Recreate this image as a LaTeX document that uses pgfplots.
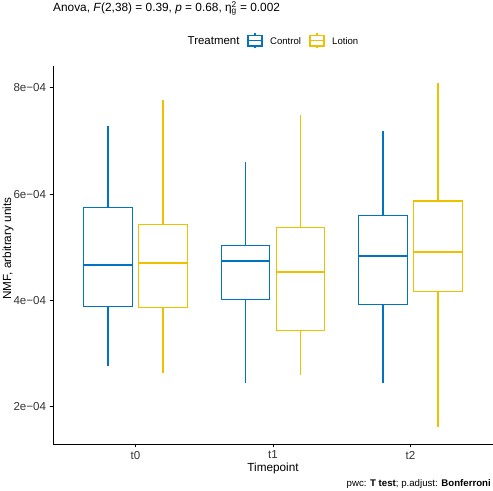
\documentclass[border=0pt]{standalone}
\usepackage{fontspec}
\setmainfont{Liberation Sans}
\usepackage{pgfplots}
\pgfplotsset{compat=1.18}
\usepgfplotslibrary{statistics}
\definecolor{ctrl}{HTML}{0073C2}
\definecolor{lot}{HTML}{EFC000}
\begin{document}
\begin{tikzpicture}[x=1bp,y=1bp]
\useasboundingbox (0,0) rectangle (493,491);
\begin{axis}[
 at={(53bp,47bp)}, anchor=south west,
 scale only axis, width=440bp, height=378bp,
 xmin=0.4, xmax=3.6, ymin=1.297, ymax=8.41,
 axis lines*=left, axis line style={black, line width=0.6pt, -},
 xtick={1,2,3}, xticklabels={t0,t1,t2},
 ytick={2,4,6,8}, yticklabels={2e−04,4e−04,6e−04,8e−04},
 tick align=outside, major tick length=3.5bp, tick style={black, line width=0.6pt},
 ticklabel style={font=\fontsize{11.6}{13}\selectfont, text=black!80},
 xlabel={Timepoint}, ylabel={NMF, arbitrary units},
 xlabel style={at={(axis description cs:0.5,-0.0635)}, anchor=center, font=\fontsize{11.8}{13}\selectfont},
 ylabel style={at={(axis description cs:-0.1023,0.517)}, anchor=center, font=\fontsize{11.8}{13}\selectfont},
 clip=false,
 boxplot/draw direction=y,
 boxplot/every median/.style={line width=2pt},
]
\addplot[mark=none, solid, draw=ctrl, line width=1.1pt, boxplot prepared={draw position=0.8, lower whisker=2.77, lower quartile=3.89, median=4.66, upper quartile=5.75, upper whisker=7.29, box extend=0.35, whisker extend=0}] coordinates {};
\addplot[mark=none, solid, draw=lot, line width=1.1pt, boxplot prepared={draw position=1.2, lower whisker=2.64, lower quartile=3.86, median=4.70, upper quartile=5.43, upper whisker=7.77, box extend=0.35, whisker extend=0}] coordinates {};
\addplot[mark=none, solid, draw=ctrl, line width=1.1pt, boxplot prepared={draw position=1.8, lower whisker=2.44, lower quartile=4.01, median=4.74, upper quartile=5.04, upper whisker=6.61, box extend=0.35, whisker extend=0}] coordinates {};
\addplot[mark=none, solid, draw=lot, line width=1.1pt, boxplot prepared={draw position=2.2, lower whisker=2.59, lower quartile=3.43, median=4.53, upper quartile=5.37, upper whisker=7.48, box extend=0.35, whisker extend=0}] coordinates {};
\addplot[mark=none, solid, draw=ctrl, line width=1.1pt, boxplot prepared={draw position=2.8, lower whisker=2.44, lower quartile=3.92, median=4.83, upper quartile=5.59, upper whisker=7.18, box extend=0.35, whisker extend=0}] coordinates {};
\addplot[mark=none, solid, draw=lot, line width=1.1pt, boxplot prepared={draw position=3.2, lower whisker=1.62, lower quartile=4.17, median=4.91, upper quartile=5.87, upper whisker=8.09, box extend=0.35, whisker extend=0}] coordinates {};
\end{axis}
% title
\node[anchor=base west, font=\fontsize{11.9}{13}\selectfont, inner sep=0pt] at (53,479)
 {Anova, \textit{F}(2,38) = 0.39, \textit{p} = 0.68, η\rlap{\textsuperscript{2}}\textsubscript{g} = 0.002};
% legend
\node[anchor=west, font=\fontsize{11.5}{13}\selectfont, inner sep=0pt] at (187.5,450) {Treatment};
\draw[ctrl, line width=1.1pt] (248,445) rectangle (262,455.5) (248,450.2)--(262,450.2) (255,442.5)--(255,445) (255,455.5)--(255,458);
\node[anchor=west, font=\fontsize{9.6}{11}\selectfont, inner sep=0pt] at (270,450) {Control};
\draw[lot, line width=1.1pt] (310,445) rectangle (324,455.5) (310,450.2)--(324,450.2) (317,442.5)--(317,445) (317,455.5)--(317,458);
\node[anchor=west, font=\fontsize{9.6}{11}\selectfont, inner sep=0pt] at (332,450) {Lotion};
% caption
\node[anchor=base east, font=\fontsize{9.7}{11}\selectfont, inner sep=0pt] at (491,4)
 {pwc: \textbf{T test}; p.adjust: \textbf{Bonferroni}};
\end{tikzpicture}
\end{document}
